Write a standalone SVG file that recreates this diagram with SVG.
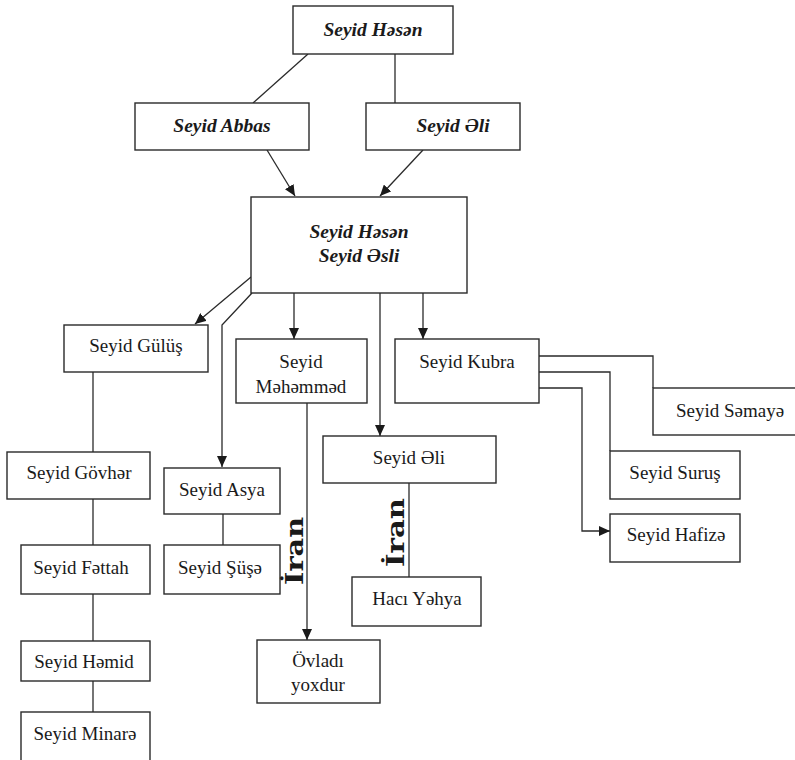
<svg xmlns="http://www.w3.org/2000/svg" width="795" height="760" viewBox="0 0 795 760">
<defs>
<marker id="ah" markerUnits="userSpaceOnUse" markerWidth="11" markerHeight="10" refX="11" refY="5" orient="auto">
<path d="M0,0 L11,5 L0,10 z" fill="#1a1a1a"/>
</marker>
<style>
.box{fill:#fff;stroke:#2a2a2a;stroke-width:1.4}
.ln{fill:none;stroke:#2a2a2a;stroke-width:1.3}
.ar{fill:none;stroke:#2a2a2a;stroke-width:1.3;marker-end:url(#ah)}
.bi{font-family:"Liberation Serif","Times New Roman",serif;font-size:19.5px;font-weight:bold;font-style:italic;fill:#1a1a1a;text-anchor:middle}
.rg{font-family:"Liberation Serif","Times New Roman",serif;font-size:19px;fill:#1a1a1a;text-anchor:middle}
.ir{font-family:"DejaVu Serif","Liberation Serif",serif;font-size:24px;font-weight:bold;fill:#1a1a1a}
</style>
</defs>
<rect width="795" height="760" fill="#fff"/>
<g id="connectors">
<line class="ln" x1="308" y1="54" x2="253" y2="103"/>
<line class="ln" x1="395" y1="54" x2="395" y2="103"/>
<line class="ar" x1="267" y1="150" x2="295" y2="196"/>
<line class="ar" x1="423" y1="150" x2="380" y2="196"/>
<line class="ar" x1="251" y1="277" x2="195" y2="324"/>
<path class="ar" d="M252,293 L222,325 L222,467"/>
<line class="ar" x1="294" y1="293" x2="294" y2="339"/>
<line class="ar" x1="380" y1="293" x2="380" y2="436"/>
<line class="ar" x1="423" y1="293" x2="423" y2="339"/>
<line class="ar" x1="307" y1="403" x2="307" y2="640"/>
<path class="ln" d="M539,356 H653 V388"/>
<path class="ln" d="M539,372 H610 V451"/>
<path class="ar" d="M539,388 H582 V531 H610"/>
<line class="ln" x1="93" y1="372" x2="93" y2="452"/>
<line class="ln" x1="93" y1="499" x2="93" y2="545"/>
<line class="ln" x1="93" y1="594" x2="93" y2="641"/>
<line class="ln" x1="93" y1="681" x2="93" y2="712"/>
<line class="ln" x1="223" y1="514" x2="223" y2="545"/>
<line class="ln" x1="409" y1="483" x2="409" y2="577"/>
</g>
<g id="n-hasan-top"><rect class="box" x="293" y="6" width="160" height="48"/><text class="bi" x="373" y="36">Seyid Həsən</text></g>
<g id="n-abbas"><rect class="box" x="135" y="103" width="174" height="47"/><text class="bi" x="222" y="132">Seyid Abbas</text></g>
<g id="n-ali-top"><rect class="box" x="366" y="103" width="154" height="47"/><text class="bi" x="453" y="132">Seyid Əli</text></g>
<g id="n-hasan-asli"><rect class="box" x="251" y="197" width="216" height="96"/><text class="bi" x="359" y="238">Seyid Həsən</text><text class="bi" x="359" y="262">Seyid Əsli</text></g>
<g id="n-gulus"><rect class="box" x="64" y="325" width="144" height="47"/><text class="rg" x="136" y="352">Seyid Gülüş</text></g>
<g id="n-mahammad"><rect class="box" x="236" y="339" width="131" height="64"/><text class="rg" x="301" y="368">Seyid</text><text class="rg" x="301" y="393">Məhəmməd</text></g>
<g id="n-kubra"><rect class="box" x="395" y="339" width="144" height="64"/><text class="rg" x="467" y="368">Seyid Kubra</text></g>
<g id="n-samaya"><rect class="box" x="653" y="388" width="150" height="47"/><text class="rg" x="730" y="417">Seyid Səmayə</text></g>
<g id="n-ali"><rect class="box" x="323" y="436" width="173" height="47"/><text class="rg" x="409" y="464">Seyid Əli</text></g>
<g id="n-surus"><rect class="box" x="610" y="451" width="130" height="48"/><text class="rg" x="675" y="479">Seyid Suruş</text></g>
<g id="n-hafiza"><rect class="box" x="610" y="514" width="130" height="48"/><text class="rg" x="676" y="541">Seyid Hafizə</text></g>
<g id="n-govhar"><rect class="box" x="7" y="452" width="143" height="47"/><text class="rg" x="79" y="479">Seyid Gövhər</text></g>
<g id="n-asya"><rect class="box" x="164" y="468" width="116" height="46"/><text class="rg" x="222" y="496">Seyid Asya</text></g>
<g id="n-fattah"><rect class="box" x="21" y="545" width="129" height="49"/><text class="rg" x="81" y="574">Seyid Fəttah</text></g>
<g id="n-susa"><rect class="box" x="164" y="545" width="116" height="49"/><text class="rg" x="220" y="574">Seyid Şüşə</text></g>
<g id="n-hamid"><rect class="box" x="21" y="641" width="129" height="40"/><text class="rg" x="84" y="668">Seyid Həmid</text></g>
<g id="n-minara"><rect class="box" x="21" y="712" width="129" height="55"/><text class="rg" x="85" y="740">Seyid Minarə</text></g>
<g id="n-haci"><rect class="box" x="352" y="577" width="129" height="49"/><text class="rg" x="417" y="605">Hacı Yəhya</text></g>
<g id="n-ovladi"><rect class="box" x="257" y="640" width="123" height="63"/><text class="rg" x="318" y="667">Övladı</text><text class="rg" x="318" y="691">yoxdur</text></g>
<g id="labels">
<text class="ir" transform="translate(303,585) rotate(-90)" textLength="68" lengthAdjust="spacingAndGlyphs">İran</text>
<text class="ir" transform="translate(404,567) rotate(-90)" textLength="69" lengthAdjust="spacingAndGlyphs">İran</text>
</g>
</svg>
